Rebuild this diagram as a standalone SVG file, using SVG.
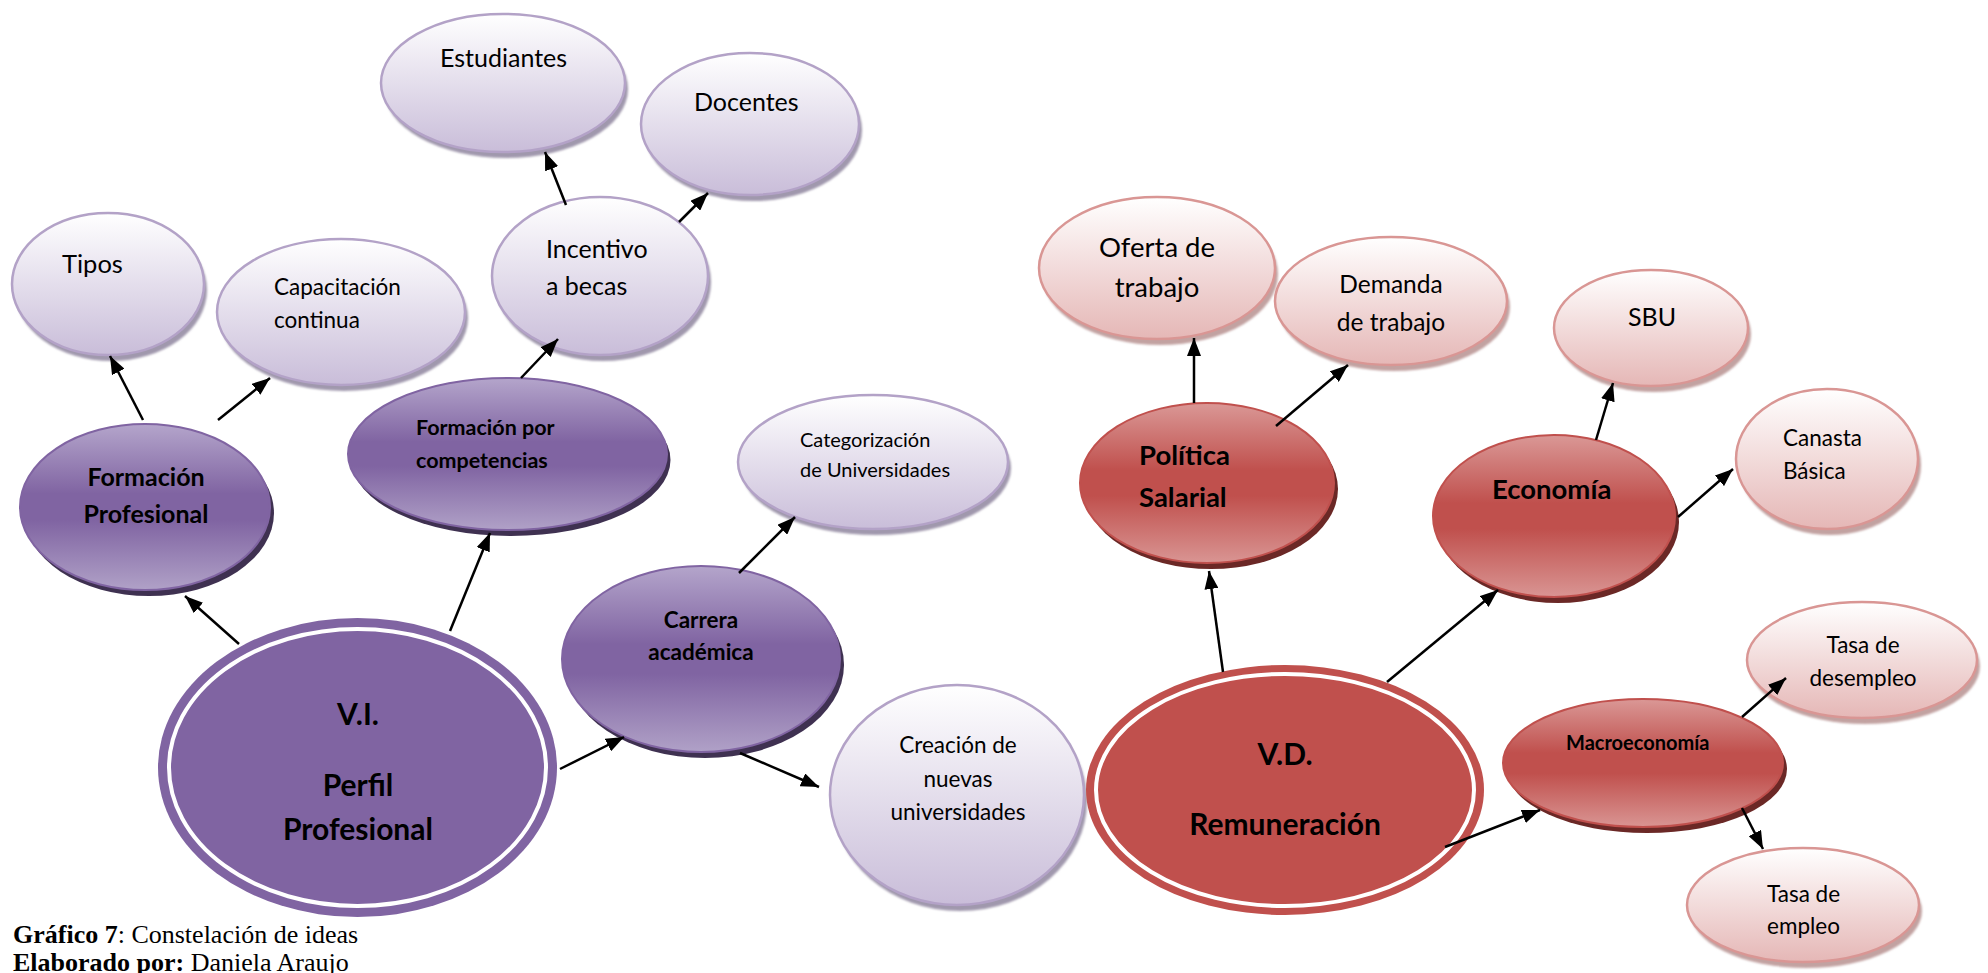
<svg xmlns="http://www.w3.org/2000/svg" width="1988" height="973" viewBox="0 0 1988 973">
<defs>
<linearGradient id="gLP" x1="0" y1="0" x2="0" y2="1">
<stop offset="0" stop-color="#FFFFFF"/><stop offset="1" stop-color="#C9BDD9"/>
</linearGradient>
<linearGradient id="gLR" x1="0" y1="0" x2="0" y2="1">
<stop offset="0" stop-color="#FFFFFF"/><stop offset="1" stop-color="#E5B7B6"/>
</linearGradient>
<linearGradient id="gDP" x1="0" y1="0" x2="0" y2="1">
<stop offset="0" stop-color="#B4A5CB"/><stop offset="0.42" stop-color="#8064A2"/><stop offset="0.58" stop-color="#8064A2"/><stop offset="1" stop-color="#B0A1C7"/>
</linearGradient>
<linearGradient id="gDR" x1="0" y1="0" x2="0" y2="1">
<stop offset="0" stop-color="#DA9896"/><stop offset="0.42" stop-color="#C0504D"/><stop offset="0.58" stop-color="#C0504D"/><stop offset="1" stop-color="#D99593"/>
</linearGradient>
<filter id="soft" x="-10%" y="-10%" width="120%" height="120%"><feGaussianBlur stdDeviation="1"/></filter>
<marker id="arr" markerUnits="userSpaceOnUse" markerWidth="20" markerHeight="14" refX="18" refY="7" orient="auto">
<path d="M0,0 L18,7 L0,14 z" fill="#000"/>
</marker>
<style>
.lp{fill:url(#gLP);stroke:#B3A2C7;stroke-width:2.5}
.lr{fill:url(#gLR);stroke:#D99694;stroke-width:2.5}
.dp{fill:url(#gDP);stroke:#8064A2;stroke-width:2}
.dr{fill:url(#gDR);stroke:#C0504D;stroke-width:2}
.slp{fill:#A098AD;filter:url(#soft)}
.slr{fill:#C2A2A1;filter:url(#soft)}
.sdp{fill:#3F3151}
.sdr{fill:#6B2826}
.t{font-family:Lato,"Open Sans","Liberation Sans",sans-serif;fill:#000}
.b{font-weight:bold}
.c{text-anchor:middle}
.cap{font-family:"Liberation Serif","Times New Roman",serif;font-size:26px;fill:#000}
.ln{stroke:#000;stroke-width:2.5;fill:none;marker-end:url(#arr)}
</style>
</defs>
<rect width="1988" height="973" fill="#FFFFFF"/>

<g id="n-estudiantes">
<ellipse class="slp" cx="506" cy="89" rx="122" ry="69"/>
<ellipse class="lp" cx="503" cy="83" rx="122" ry="69"/>
<text class="t" x="440" y="67" font-size="25">Estudiantes</text>
</g>
<g id="n-docentes">
<ellipse class="slp" cx="753" cy="130" rx="109" ry="71"/>
<ellipse class="lp" cx="750" cy="124" rx="109" ry="71"/>
<text class="t" x="694" y="111" font-size="25">Docentes</text>
</g>
<g id="n-tipos">
<ellipse class="slp" cx="111" cy="290" rx="96" ry="71"/>
<ellipse class="lp" cx="108" cy="284" rx="96" ry="71"/>
<text class="t" x="62" y="273" font-size="25.5">Tipos</text>
</g>
<g id="n-capacitacion">
<ellipse class="slp" cx="344" cy="318" rx="124" ry="73"/>
<ellipse class="lp" cx="341" cy="312" rx="124" ry="73"/>
<text class="t" x="274" y="295" font-size="22.5">Capacitación</text>
<text class="t" x="274" y="328" font-size="22.5">continua</text>
</g>
<g id="n-incentivo">
<ellipse class="slp" cx="603" cy="282" rx="108" ry="79"/>
<ellipse class="lp" cx="600" cy="276" rx="108" ry="79"/>
<text class="t" x="546" y="258" font-size="25">Incentivo</text>
<text class="t" x="546" y="295" font-size="25">a becas</text>
</g>
<g id="n-formacion-competencias">
<ellipse class="sdp" cx="511" cy="460" rx="159.5" ry="76"/>
<ellipse class="dp" cx="507.5" cy="454" rx="159.5" ry="76"/>
<text class="t b" x="416" y="435" font-size="21.5">Formación por</text>
<text class="t b" x="416" y="468" font-size="21.5">competencias</text>
</g>
<g id="n-formacion-profesional">
<ellipse class="sdp" cx="149" cy="513" rx="125" ry="83"/>
<ellipse class="dp" cx="145" cy="507" rx="125" ry="83"/>
<text class="t b c" x="146" y="486" font-size="25">Formación</text>
<text class="t b c" x="146" y="523" font-size="25">Profesional</text>
</g>
<g id="n-categorizacion">
<ellipse class="slp" cx="876" cy="468" rx="135" ry="67"/>
<ellipse class="lp" cx="873" cy="462" rx="135" ry="67"/>
<text class="t" x="800" y="447" font-size="20">Categorización</text>
<text class="t" x="800" y="477" font-size="20">de Universidades</text>
</g>
<g id="n-carrera">
<ellipse class="sdp" cx="705" cy="665" rx="139" ry="93"/>
<ellipse class="dp" cx="701" cy="659" rx="139" ry="93"/>
<text class="t b c" x="701" y="628" font-size="22.5">Carrera</text>
<text class="t b c" x="701" y="660" font-size="22.5">académica</text>
</g>
<g id="n-creacion">
<ellipse class="slp" cx="960" cy="801" rx="127" ry="110"/>
<ellipse class="lp" cx="957" cy="795" rx="127" ry="110"/>
<text class="t c" x="958" y="753" font-size="22.5">Creación de</text>
<text class="t c" x="958" y="787" font-size="22.5">nuevas</text>
<text class="t c" x="958" y="820" font-size="22.5">universidades</text>
</g>
<g id="n-vi">
<ellipse cx="357.5" cy="767.5" rx="199.5" ry="149.5" fill="#8064A2"/>
<ellipse cx="357.5" cy="767.5" rx="188.5" ry="138.5" fill="none" stroke="#FFFFFF" stroke-width="4"/>
<text class="t b c" x="358" y="725" font-size="30">V.I.</text>
<text class="t b c" x="358" y="796" font-size="30">Perfil</text>
<text class="t b c" x="358" y="840" font-size="30">Profesional</text>
</g>
<g id="n-vd">
<ellipse cx="1285" cy="790" rx="199" ry="125" fill="#C0504D"/>
<ellipse cx="1285" cy="790" rx="189" ry="116" fill="none" stroke="#FFFFFF" stroke-width="4"/>
<text class="t b c" x="1285" y="765" font-size="30">V.D.</text>
<text class="t b c" x="1285" y="835" font-size="30">Remuneración</text>
</g>
<g id="n-oferta">
<ellipse class="slr" cx="1160" cy="274" rx="118" ry="71"/>
<ellipse class="lr" cx="1157" cy="268" rx="118" ry="71"/>
<text class="t c" x="1157" y="257" font-size="27.5">Oferta de</text>
<text class="t c" x="1157" y="297" font-size="27.5">trabajo</text>
</g>
<g id="n-demanda">
<ellipse class="slr" cx="1394" cy="307" rx="116" ry="64"/>
<ellipse class="lr" cx="1391" cy="301" rx="116" ry="64"/>
<text class="t c" x="1391" y="293" font-size="24.5">Demanda</text>
<text class="t c" x="1391" y="331" font-size="24.5">de trabajo</text>
</g>
<g id="n-politica">
<ellipse class="sdr" cx="1211" cy="489" rx="127" ry="80"/>
<ellipse class="dr" cx="1207" cy="483" rx="127" ry="80"/>
<text class="t b" x="1139" y="465" font-size="27.5">Política</text>
<text class="t b" x="1139" y="507" font-size="27.5">Salarial</text>
</g>
<g id="n-sbu">
<ellipse class="slr" cx="1654" cy="334" rx="97" ry="58"/>
<ellipse class="lr" cx="1651" cy="328" rx="97" ry="58"/>
<text class="t" x="1628" y="326" font-size="25">SBU</text>
</g>
<g id="n-economia">
<ellipse class="sdr" cx="1558" cy="522" rx="121" ry="81"/>
<ellipse class="dr" cx="1554" cy="516" rx="121" ry="81"/>
<text class="t b" x="1492" y="499" font-size="27.5">Economía</text>
</g>
<g id="n-canasta">
<ellipse class="slr" cx="1830" cy="465" rx="91" ry="70"/>
<ellipse class="lr" cx="1827" cy="459" rx="91" ry="70"/>
<text class="t" x="1783" y="446" font-size="22.5">Canasta</text>
<text class="t" x="1783" y="479" font-size="22.5">Básica</text>
</g>
<g id="n-desempleo">
<ellipse class="slr" cx="1865" cy="666" rx="115" ry="58"/>
<ellipse class="lr" cx="1862" cy="660" rx="115" ry="58"/>
<text class="t c" x="1863" y="653" font-size="22.5">Tasa de</text>
<text class="t c" x="1863" y="686" font-size="22.5">desempleo</text>
</g>
<g id="n-macro">
<ellipse class="sdr" cx="1647" cy="769" rx="140" ry="64"/>
<ellipse class="dr" cx="1643" cy="763" rx="140" ry="64"/>
<text class="t b" x="1566" y="750" font-size="20">Macroeconomía</text>
</g>
<g id="n-empleo">
<ellipse class="slr" cx="1806" cy="911" rx="116" ry="57"/>
<ellipse class="lr" cx="1803" cy="905" rx="116" ry="57"/>
<text class="t" x="1767" y="902" font-size="22.5">Tasa de</text>
<text class="t" x="1767" y="934" font-size="22.5">empleo</text>
</g>

<g id="connectors">
<line class="ln" x1="239" y1="644" x2="185" y2="596"/>
<line class="ln" x1="450" y1="631" x2="490" y2="533"/>
<line class="ln" x1="560" y1="769" x2="624" y2="737"/>
<line class="ln" x1="739" y1="573" x2="795" y2="517"/>
<line class="ln" x1="740" y1="753" x2="819" y2="787"/>
<line class="ln" x1="143" y1="420" x2="110" y2="356"/>
<line class="ln" x1="218" y1="420" x2="270" y2="378"/>
<line class="ln" x1="521" y1="378" x2="558" y2="339"/>
<line class="ln" x1="566" y1="205" x2="545" y2="152"/>
<line class="ln" x1="679" y1="222" x2="708" y2="193"/>
<line class="ln" x1="1194" y1="403" x2="1194" y2="338"/>
<line class="ln" x1="1276" y1="426" x2="1348" y2="365"/>
<line class="ln" x1="1223" y1="672" x2="1209" y2="571"/>
<line class="ln" x1="1596" y1="440" x2="1613" y2="383"/>
<line class="ln" x1="1387" y1="682" x2="1498" y2="590"/>
<line class="ln" x1="1678" y1="517" x2="1733" y2="469"/>
<line class="ln" x1="1445" y1="847" x2="1540" y2="810"/>
<line class="ln" x1="1742" y1="717" x2="1786" y2="678"/>
<line class="ln" x1="1742" y1="808" x2="1763" y2="849"/>
</g>

<g id="caption">
<text class="cap" x="13" y="943"><tspan font-weight="bold">Gráfico 7</tspan>: Constelación de ideas</text>
<text class="cap" x="13" y="971"><tspan font-weight="bold">Elaborado por:</tspan> Daniela Araujo</text>
</g>
</svg>
